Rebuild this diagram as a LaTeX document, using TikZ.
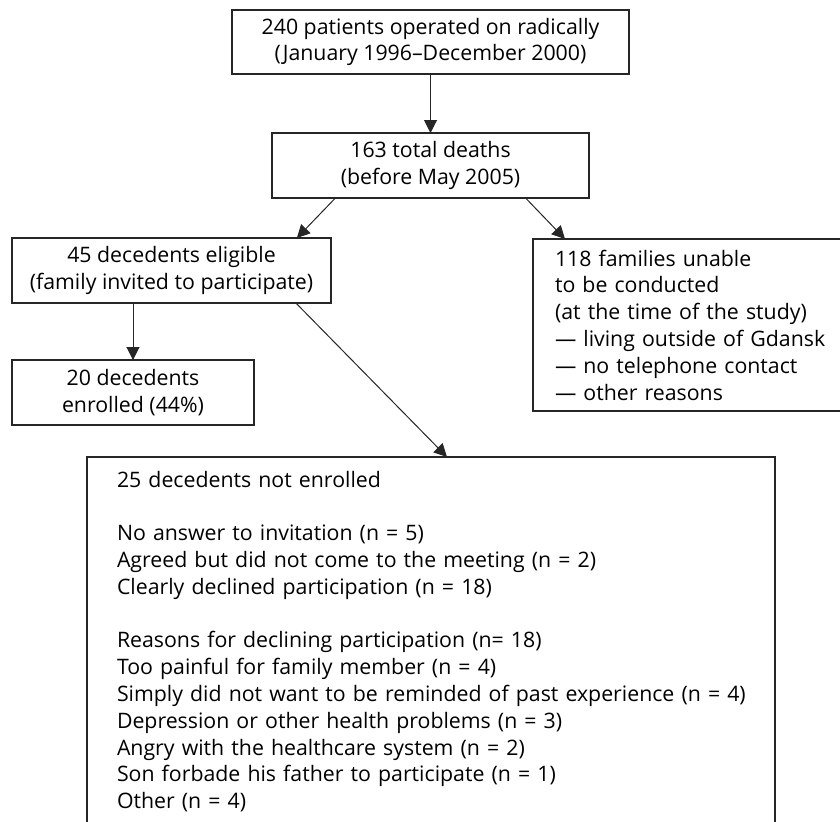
\documentclass[tikz,border=0pt]{standalone}
\usepackage{fontspec}
\setmainfont{Open Sans}
\usetikzlibrary{arrows.meta,calc}
\begin{document}
\begin{tikzpicture}[x=0.5pt,y=-0.5pt,outer sep=0pt,inner sep=0pt,
    font=\fontsize{10.65}{13.4}\selectfont,
    box/.style={draw=black!85,line width=0.75pt,align=center},
    listbox/.style={box,align=left},
    arr/.style={draw=black!85,line width=0.5pt,-{Triangle[length=6.5pt,width=6.5pt]}}]
    \useasboundingbox (0,0) rectangle (840,821);
    \clip (0,0) rectangle (840,821);
    \node[box, minimum width=198.5pt, minimum height=32pt] (patients) at (430.5,42)
      {240 patients operated on radically\\(January 1996–December 2000)};
    \node[box, minimum width=158.5pt, minimum height=32.5pt] (deaths) at (430.5,165.5)
      {163 total deaths\\(before May 2005)};
    \node[box, minimum width=159.5pt, minimum height=32.5pt] (eligible) at (171.5,270.5)
      {45 decedents eligible\\(family invited to participate)};
    \node[box, minimum width=121pt, minimum height=32.5pt] (enrolled) at (133,392.5)
      {20 decedents\\enrolled (44\%)};
    \node[listbox, inner xsep=11pt, text width=161.5pt, minimum height=86pt] (unable) at (716.5,325)
      {118 families unable\\to be conducted\\(at the time of the study)\\— living outside of Gdansk\\— no telephone contact\\— other reasons};
    \node[listbox, inner xsep=15pt, text width=314pt, minimum height=184.5pt] (notenrolled) at (431,641.5)
      {25 decedents not enrolled\\[13.4pt]
       No answer to invitation (n = 5)\\
       Agreed but did not come to the meeting (n = 2)\\
       Clearly declined participation (n = 18)\\[13.4pt]
       Reasons for declining participation (n= 18)\\
       Too painful for family member (n = 4)\\
       \mbox{Simply did not want to be reminded of past experience (n = 4)}\\
       Depression or other health problems (n = 3)\\
       Angry with the healthcare system (n = 2)\\
       Son forbade his father to participate (n = 1)\\
       Other (n = 4)};
    \draw[arr] (patients) -- (deaths);
    \draw[arr] ($(deaths.south west)!0.2!(deaths.south east)$) -- ($(eligible.north west)!0.893!(eligible.north east)$);
    \draw[arr] ($(deaths.south west)!0.8!(deaths.south east)$) -- ([xshift=16pt]unable.north west);
    \draw[arr] (eligible.south -| enrolled.north) -- (enrolled.north);
    \draw[arr] ($(eligible.south west)!0.89!(eligible.south east)$) -- ([xshift=180pt]notenrolled.north west);
\end{tikzpicture}
\end{document}
